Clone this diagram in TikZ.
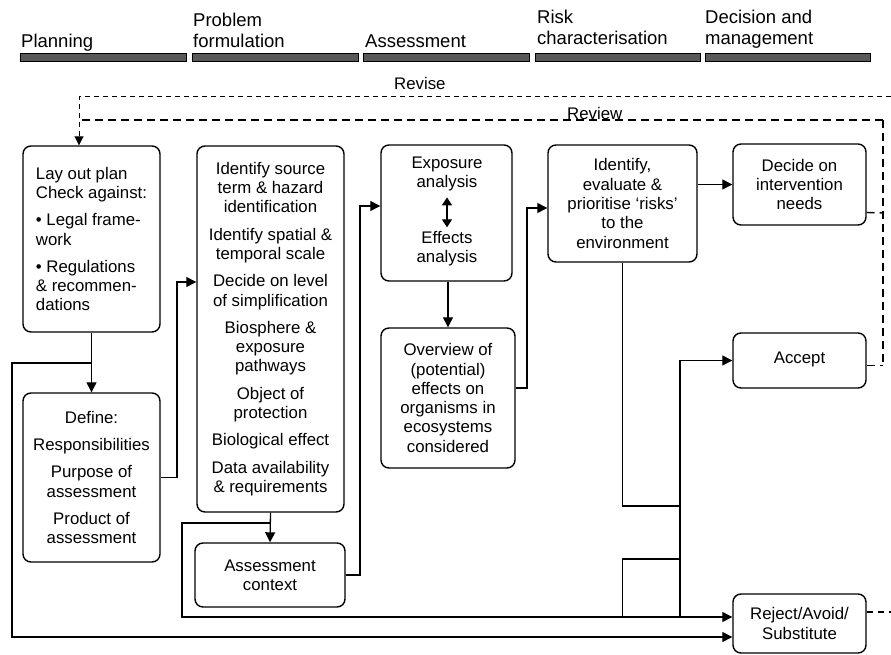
\documentclass[tikz,border=0pt]{standalone}
\usepackage{fontspec}
\setmainfont{Liberation Sans}
\usetikzlibrary{arrows.meta,calc}
\newcommand{\bxfont}{\fontsize{16.8}{19.3}\selectfont}
\newcommand{\hdfont}{\fontsize{18.5}{21}\selectfont}
\begin{document}
\begin{tikzpicture}[x=1pt,y=-1pt,
  box/.style={draw,line width=1.4pt,rounded corners=8pt,inner sep=0pt,align=center,font=\bxfont},
  arr/.style={line width=1.3pt,-{Triangle[length=10pt,width=10pt]}},
  ln/.style={line width=1.3pt},
  bar/.style={draw=black,line width=1.2pt,fill=black!65,minimum height=8pt,inner sep=0pt,anchor=north west},
  hd/.style={font=\hdfont,anchor=base west,inner sep=0pt},
  revise/.style={line width=1pt,dash pattern=on 5pt off 4pt},
  review/.style={line width=1.4pt,dash pattern=on 8pt off 5pt},
  lbl/.style={font=\bxfont,inner sep=0pt,align=center}
]
\useasboundingbox[fill=white] (0,0) rectangle (891,655);

% header bars
\node[bar,minimum width=166pt] (bar1) at (20,53) {};
\node[bar,minimum width=166pt] (bar2) at (192,53) {};
\node[bar,minimum width=166pt] (bar3) at (363,53) {};
\node[bar,minimum width=165pt] (bar4) at (535,53) {};
\node[bar,minimum width=165pt] (bar5) at (705,53) {};

% header texts
\node[hd] (hPlan) at (21,48) {Planning};
\node[hd] (hProbA) at (193,27) {Problem};
\node[hd] (hProbB) at (193,48) {formulation};
\node[hd] (hAss) at (365,48) {Assessment};
\node[hd] (hRiskA) at (537,24) {Risk};
\node[hd] (hRiskB) at (537,45) {characterisation};
\node[hd] (hDecA) at (705,24) {Decision and};
\node[hd] (hDecB) at (705,45) {management};

% loop labels
\node[lbl,anchor=base west] (revlbl) at (394,90) {Revise};
\node[lbl,anchor=base west] (revwlbl) at (567,120) {Review};

% boxes
\node[box,minimum width=137pt,minimum height=186pt,align=left] (plan) at (91.5,239)
  {Lay out plan\\Check against:\\[8pt]\textbullet\ Legal frame-\\work\\[8pt]\textbullet\ Regulations\\\& recommen-\\dations};
\node[box,minimum width=137pt,minimum height=169pt] (define) at (91.5,477.5)
  {Define:\\[8pt]Responsibilities\\[8pt]Purpose of\\assessment\\[8pt]Product of\\assessment};
\node[box,minimum width=147pt,minimum height=366pt] (identify) at (270.5,329)
  {Identify source\\term \& hazard\\identification\\[8pt]Identify spatial \&\\temporal scale\\[8pt]Decide on level\\of simplification\\[8pt]Biosphere \&\\exposure\\pathways\\[8pt]Object of\\protection\\[8pt]Biological effect\\[8pt]Data availability\\\& requirements};
\node[box,minimum width=150pt,minimum height=64pt] (context) at (270,575)
  {Assessment\\context};
\node[box,minimum width=131pt,minimum height=136pt] (expo) at (446.5,213) {};
\node[lbl] (e1) at (447,174) {Exposure\\analysis};
\node[lbl] (e2) at (447,249) {Effects\\analysis};
\node[box,minimum width=134pt,minimum height=140pt] (overview) at (448,398)
  {Overview of\\(potential)\\effects on\\organisms in\\ecosystems\\considered};
\node[box,minimum width=149pt,minimum height=117pt] (risks) at (622.5,203.5)
  {Identify,\\evaluate \&\\prioritise `risks'\\to the\\environment};
\node[box,minimum width=133pt,minimum height=81pt] (decide) at (799.5,184.5)
  {Decide on\\intervention\\needs};
\node[box,minimum width=133pt,minimum height=55pt,text depth=6pt] (accept) at (799.5,360.5)
  {Accept};
\node[box,minimum width=133pt,minimum height=59pt] (reject) at (799.5,623.5)
  {Reject/Avoid/\\Substitute};

% junction coordinates
\coordinate (jL) at (91.5,363);
\coordinate (c1) at (12,363);
\coordinate (c2) at (12,637);
\coordinate (bc) at (177,282);
\coordinate (jC) at (270.5,523);
\coordinate (c3) at (182,523);
\coordinate (c4) at (182,617);
\coordinate (de) at (360,206);
\coordinate (fg) at (527,208);
\coordinate (c5) at (680,506);
\coordinate (c6) at (680,617);
\coordinate (c7) at (622.5,559);
\coordinate (rvL) at (79,97);
\coordinate (rvR) at (891,97);
\coordinate (rwL) at (79,120);
\coordinate (rwR) at (883,120);
\coordinate (hs) at (883,213);
\coordinate (rjs) at (891,612);

% solid connectors
\draw[arr] (plan.south) -- (define.north);
\draw[arr] (jL) -- (c1) -- (c2) -- (c2 -| reject.west);
\draw[arr] (define.east) -| (bc) -- (bc -| identify.west);
\draw[arr] (identify.south) -- (context.north);
\draw[arr] (jC) -- (c3) -- (c4) -- (c4 -| reject.west);
\draw[arr] (context.east) -| (de) -- (de -| expo.west);
\draw[line width=1.3pt,{Triangle[length=8pt,width=10pt]}-{Triangle[length=8pt,width=10pt]}]
  ([yshift=-6pt]e1.south) -- ([yshift=4pt]e2.north);
\draw[arr] (expo.south -| overview.north) -- (overview.north);
\draw[arr] ([yshift=10pt]overview.east) -| (fg) -- (fg -| risks.west);
\draw[arr] (risks.east |- decide.west) -- (decide.west);
\draw[arr] (risks.south) |- (c5) |- (accept.west);
\draw[ln] (c5) -- (c6);
\draw[ln] (c7 -| c5) -- (c7) -- (c7 |- c6);

% dashed feedback loops
\draw[revise,-{Triangle[length=9pt,width=9pt]}] (rvR) -- (rvL) -- (rvL |- plan.north);
\draw[review] (rwR) -- (rwL);
\draw[review] (rwR) -- ([yshift=-5pt]accept.east -| rwR);
\draw[review] ([yshift=-28pt]decide.east) -- (hs);
\draw[review] ([yshift=-5pt]accept.east) -- ([yshift=-5pt]accept.east -| rwR);
\draw[review,dash pattern=on 6pt off 5pt] ([yshift=11.5pt]reject.east) -- (rjs);
\end{tikzpicture}
\end{document}
